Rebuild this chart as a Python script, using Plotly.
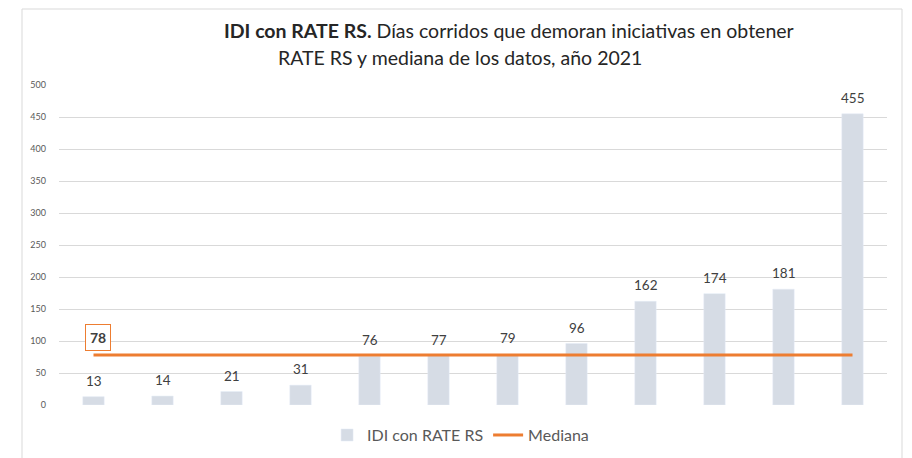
import plotly.graph_objects as go

categories = [f"IDI {i}" for i in range(1, 13)]
dias = [13, 14, 21, 31, 76, 77, 79, 96, 162, 174, 181, 455]
mediana = 78
median_values = [mediana] * len(categories)
y_ticks = [0, 50, 100, 150, 200, 250, 300, 350, 400, 450, 500]

FONT = "Lato, Open Sans, sans-serif"

fig = go.Figure()
fig.add_trace(go.Bar(
    x=categories, y=dias, name="IDI con RATE RS",
    marker=dict(color="#D6DCE5"), width=0.31,
))
fig.add_trace(go.Scatter(
    x=categories, y=median_values, name="Mediana", mode="lines",
    line=dict(color="#ED7D31", width=3),
))

# data labels above bars
for c, v in zip(categories, dias):
    fig.add_annotation(
        x=c, y=v, xref="x", yref="y", text=str(v), showarrow=False,
        yanchor="bottom", yshift=6,
        font=dict(size=13.5, color="#404040", family=FONT),
    )

fig.add_annotation(
    x=categories[0], y=mediana, xref="x", yref="y",
    text="<b>78</b>", showarrow=False, yshift=18, xshift=4,
    font=dict(size=14, color="#404040", family=FONT),
    bordercolor="#ED7D31", borderwidth=1, borderpad=4, bgcolor="white",
)

fig.add_annotation(
    x=(509 - 59) / 828, y=(405 - 30) / 320, xref="paper", yref="paper",
    text="<b>IDI con RATE RS.</b> Días corridos que demoran iniciativas en obtener",
    showarrow=False, xanchor="center", yanchor="middle",
    font=dict(size=19.5, color="#262626", family=FONT),
)
fig.add_annotation(
    x=(460 - 59) / 828, y=(405 - 57) / 320, xref="paper", yref="paper",
    text="RATE RS y mediana de los datos, año 2021",
    showarrow=False, xanchor="center", yanchor="middle",
    font=dict(size=19.5, color="#262626", family=FONT),
)

# outer chart frame
fx0 = (22 - 59) / 828
fx1 = (902 - 59) / 828
fy_top = (405 - 9) / 320
fy_bot = (405 - 470) / 320
for (x0, y0, x1, y1) in [(fx0, fy_bot, fx0, fy_top), (fx0, fy_top, fx1, fy_top), (fx1, fy_top, fx1, fy_bot)]:
    fig.add_shape(type="line", xref="paper", yref="paper", x0=x0, y0=y0, x1=x1, y1=y1,
                  line=dict(color="#D9D9D9", width=1))

# page body has an 8px default margin; figure is sized to fill the remaining window
fig.update_layout(
    width=904, height=450,
    margin=dict(l=51, r=25, t=77, b=53, autoexpand=False),
    paper_bgcolor="white", plot_bgcolor="white",
    font=dict(family=FONT, color="#595959"),
    showlegend=True,
    legend=dict(orientation="h", x=0.485, xanchor="center", y=-0.094, yanchor="middle",
                font=dict(size=16, color="#595959", family=FONT)),
    bargap=0.69,
)
fig.update_xaxes(showticklabels=False, showgrid=False, showline=False, zeroline=False)
fig.update_yaxes(range=[0, 500], tickvals=y_ticks, showgrid=True, gridcolor="#D9D9D9",
                 gridwidth=1, zeroline=False, showline=False,
                 tickfont=dict(size=9, color="#595959", family=FONT), ticklabelstandoff=12)

fig.write_html("out.html")
